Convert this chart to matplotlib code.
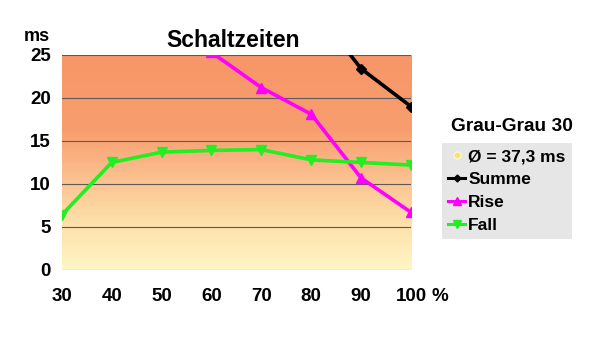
import matplotlib

matplotlib.use("Agg")
import matplotlib.pyplot as plt
import numpy as np
from matplotlib.colors import LinearSegmentedColormap
from matplotlib.lines import Line2D

plt.rcParams["font.family"] = ["Liberation Sans", "DejaVu Sans"]
plt.rcParams["font.weight"] = "bold"

# grey level steps in %
levels = [30, 40, 50, 60, 70, 80, 90, 100]
fall = [6.4, 12.5, 13.7, 13.9, 14.0, 12.8, 12.5, 12.2]
rise_levels = [60, 70, 80, 90, 100]
rise = [25.3, 21.2, 18.1, 10.7, 6.7]
sum_levels = [80, 90, 100]
summe = [30.8, 23.4, 19.0]
y_ticks = [0, 5, 10, 15, 20, 25]
avg_label = "Ø = 37,3 ms"

fig = plt.figure(figsize=(6.0, 3.52), dpi=100)
ax = fig.add_axes([0.103, 0.233, 0.582, 0.611])

# orange to pale yellow background
cmap = LinearSegmentedColormap.from_list(
    "bg",
    [(0.0, "#FFF6C6"), (0.25, "#FDDCA6"), (0.5, "#FAB585"), (0.65, "#F89E6E"), (1.0, "#F79668")],
)
grad = np.linspace(0, 1, 256).reshape(-1, 1)
ax.imshow(grad, cmap=cmap, origin="lower", aspect="auto",
          extent=(30, 100, 0, 25), zorder=0)

for yv in y_ticks:
    ax.axhline(yv, color="#5a5a5a", linewidth=0.8, zorder=1)

ax.plot(sum_levels, summe, color="black", linewidth=2.6, marker="D",
        markersize=5, zorder=3)
ax.plot(rise_levels, rise, color="#FF00FF", linewidth=2.6, marker="^",
        markersize=7, zorder=3)
ax.plot(levels, fall, color="#22EE22", linewidth=2.6, marker="v",
        markersize=7, zorder=4)

ax.set_xlim(30, 100)
ax.set_ylim(0, 25)
ax.set_xticks(levels)
ax.set_yticks(y_ticks)
ax.tick_params(length=0, labelsize=13.5)
ax.tick_params(axis="x", pad=13)
ax.tick_params(axis="y", pad=8)
for lab in ax.get_xticklabels() + ax.get_yticklabels():
    lab.set_fontweight("bold")
for side in ax.spines.values():
    side.set_visible(False)

fig.text(0.389, 0.886, "Schaltzeiten", ha="center", va="center",
         fontsize=16.5, fontweight="bold")
fig.text(0.062, 0.895, "ms", ha="center", va="center", fontsize=13, fontweight="bold")
fig.text(0.733, 0.159, "%", ha="center", va="center", fontsize=13.5, fontweight="bold")
fig.text(0.853, 0.642, "Grau-Grau 30", ha="center", va="center",
         fontsize=13.8, fontweight="bold")

handles = [
    Line2D([], [], linestyle="none", marker="o", markersize=5,
           markerfacecolor="#F5E37A", markeredgecolor="#FFF8C0"),
    Line2D([], [], color="black", linewidth=2.2, marker="D", markersize=3.5),
    Line2D([], [], color="#FF00FF", linewidth=2.2, marker="^", markersize=5.5),
    Line2D([], [], color="#22EE22", linewidth=2.2, marker="v", markersize=5.5),
]
leg = fig.legend(handles, [avg_label, "Summe", "Rise", "Fall"],
                 loc="upper left", bbox_to_anchor=(0.737, 0.594),
                 bbox_transform=fig.transFigure, borderaxespad=0,
                 frameon=True, fancybox=False, handlelength=0.95,
                 handletextpad=0.2, labelspacing=0.45, borderpad=0.35,
                 prop={"size": 12.5, "weight": "bold"})
leg.get_frame().set_facecolor("#E6E6E6")
leg.get_frame().set_edgecolor("none")
leg.get_frame().set_alpha(1)

fig.savefig("out.png", dpi=100)
